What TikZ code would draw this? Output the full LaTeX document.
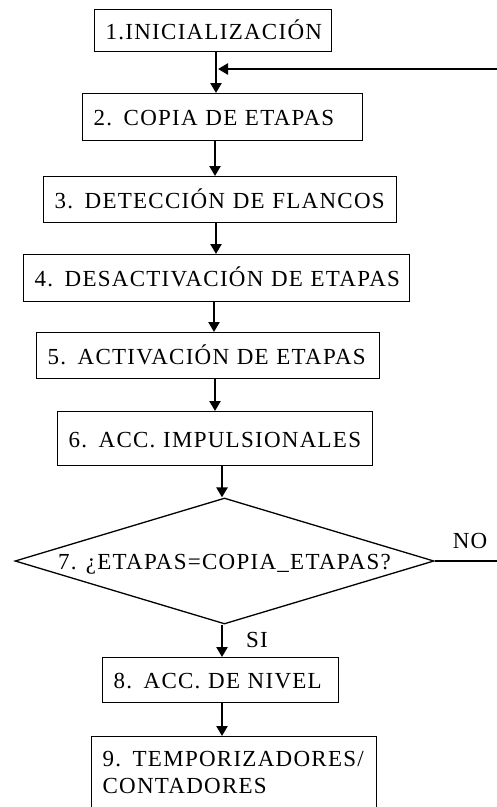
\documentclass[tikz,border=0pt]{standalone}
\usepackage{fontspec}
\setmainfont{Liberation Serif}
\newfontfamily\flowfont{Liberation Serif}[LetterSpace=5.5]
\newcommand\flowsize{\fontsize{23}{27}\selectfont}
\usepackage{tikz}
\usetikzlibrary{positioning,arrows.meta,shapes.geometric,calc}

\begin{document}
\begin{tikzpicture}[x=1pt,y=-1pt,
    box/.style={draw=black, line width=1.3pt, anchor=north west, inner xsep=11pt, inner ysep=0pt,
      align=left, text height=17pt, text depth=0pt, font=\flowfont\flowsize},
    test/.style={draw=black, line width=1.3pt, shape=diamond, aspect=3.325, inner sep=0pt,
      text height=17pt, text depth=0pt, minimum width=419pt, minimum height=126pt,
      font=\flowfont\flowsize},
    lbl/.style={inner sep=0pt, font=\flowfont\flowsize},
    flow/.style={arrows={-Triangle[length=10pt,width=11pt]}, line width=2.8pt}]

    \useasboundingbox (0,0) rectangle (497,807);
    \clip (0,0) rectangle (497,807);

    \node[box, text width=215pt, minimum height=42pt] (b1) at (94,9) {1.INICIALIZACIÓN};
    \node[box, text width=258pt, minimum height=47pt] (b2) at (82,93) {2. COPIA DE ETAPAS};
    \node[box, text width=331pt, minimum height=46pt] (b3) at (43,176) {3. DETECCIÓN DE FLANCOS};
    \node[box, text width=364pt, minimum height=47pt] (b4) at (23,254) {4. DESACTIVACIÓN DE ETAPAS};
    \node[box, text width=321pt, minimum height=46pt] (b5) at (36,332) {5. ACTIVACIÓN DE ETAPAS};
    \node[box, text width=293pt, minimum height=54pt] (b6) at (57,411) {6. ACC. IMPULSIONALES};
    \node[test] (d7) at (224.5,561) {7. ¿ETAPAS=COPIA\_ETAPAS?};
    \node[box, text width=214pt, minimum height=45pt] (b8) at (102,657) {8. ACC. DE NIVEL};
    \node[box, text width=263pt, text height=30pt, text depth=48pt] (b9) at (91,736)
      {9. TEMPORIZADORES/\\CONTADORES};

    \node[lbl] (no) at (470,541) {NO};
    \node[lbl] (si) at (257,640) {SI};

    % main chain
    \draw[flow] (216,0 |- b1.south) -- (216,0 |- b2.north);
    \draw[flow] (215,0 |- b2.south) -- (215,0 |- b3.north);
    \draw[flow] (216,0 |- b3.south) -- (216,0 |- b4.north);
    \draw[flow] (214,0 |- b4.south) -- (214,0 |- b5.north);
    \draw[flow] (215,0 |- b5.south) -- (215,0 |- b6.north);
    \draw[flow] (222,0 |- b6.south) -- (222,0 |- d7.north);
    \draw[flow] (222,0 |- d7.south) -- (222,0 |- b8.north);
    \draw[flow] (222,0 |- b8.south) -- (222,0 |- b9.north);

    % NO branch back to step 2
    \coordinate (back) at (218,69);
    \draw[flow] (d7.east) -- (499,0 |- d7.east) |- (back);

\end{tikzpicture}
\end{document}
